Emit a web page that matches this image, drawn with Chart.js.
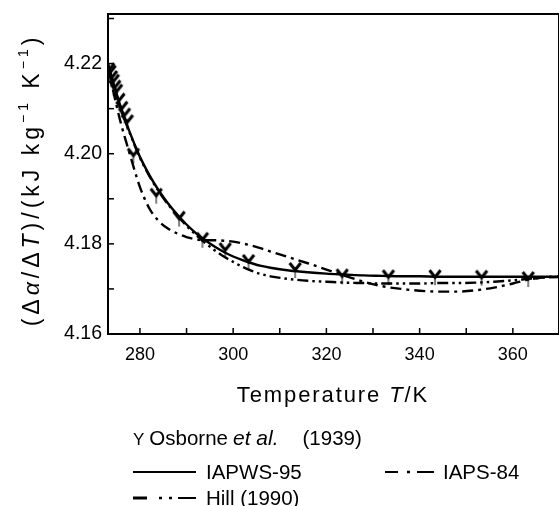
<!DOCTYPE html>
<html>
<head>
<meta charset="utf-8">
<script src="https://cdn.jsdelivr.net/npm/chart.js@4.4.1/dist/chart.umd.min.js"></script>
<style>
  html, body { margin: 0; padding: 0; background: #fff; overflow: hidden; }
  #wrap { position: relative; width: 560px; height: 506px; }
  #chart { position: absolute; left: 0; top: 0; }
  .leg { position: absolute; font-family: 'Liberation Sans', Arial, sans-serif; font-size: 20.5px; color: #000; white-space: nowrap; line-height: 1; }
  .leg svg { position: absolute; }
</style>
</head>
<body>
<div id="wrap">
  <canvas id="chart" width="560" height="506"></canvas>
  <div class="leg" style="left:133px; top:427px;"><span style="font-size:17px;">Y</span><span style="margin-left:5px;">Osborne</span><i style="margin-left:5px; font-size:21px;">et al.</i><span style="margin-left:24px;">(1939)</span></div>
  <svg class="leg" style="left:130px; top:462px;" width="70" height="44">
    <line x1="3" y1="10" x2="66" y2="10" stroke="#000" stroke-width="2"/>
    <line x1="3" y1="36" x2="17" y2="36" stroke="#000" stroke-width="3"/>
    <line x1="29" y1="36" x2="32" y2="36" stroke="#000" stroke-width="2.5"/>
    <line x1="39" y1="36" x2="42" y2="36" stroke="#000" stroke-width="2.5"/>
    <line x1="48" y1="36" x2="66" y2="36" stroke="#000" stroke-width="2"/>
  </svg>
  <div class="leg" style="left:206px; top:462px;">IAPWS-95</div>
  <div class="leg" style="left:206px; top:488px;">Hill (1990)</div>
  <svg class="leg" style="left:382px; top:462px;" width="56" height="20">
    <line x1="3" y1="10" x2="16" y2="10" stroke="#000" stroke-width="2"/>
    <line x1="25" y1="10" x2="28" y2="10" stroke="#000" stroke-width="2.5"/>
    <line x1="35" y1="10" x2="52" y2="10" stroke="#000" stroke-width="2"/>
  </svg>
  <div class="leg" style="left:443px; top:462px;">IAPS-84</div>
</div>
<script>
// ── data ───────────────────────────────────────────────────────────
const curveT = [273.15, 274, 275, 276, 277, 278, 279, 280, 282, 284, 286, 288, 290, 292, 294, 296, 298, 300,
  302, 304, 306, 308, 312, 316, 320, 324, 328, 332, 336, 340, 344, 348, 352, 356, 360, 364, 368, 372];

const iapws95 = [4.2200, 4.2168, 4.2133, 4.2100, 4.2070, 4.2043, 4.2017, 4.1993, 4.1953, 4.1919, 4.1890, 4.1865,
  4.1843, 4.1824, 4.1808, 4.1794, 4.1782, 4.1772, 4.1764, 4.1757, 4.1751, 4.1747, 4.1741, 4.1737, 4.1734,
  4.1732, 4.1730, 4.1729, 4.1728, 4.1728, 4.1727, 4.1727, 4.1727, 4.1727, 4.1727, 4.1727, 4.1727, 4.1727];

const iaps84 = [4.2195, 4.2152, 4.2106, 4.2064, 4.2028, 4.1993, 4.1958, 4.1926, 4.1879, 4.1851, 4.1834, 4.1823,
  4.1815, 4.1810, 4.1808, 4.1808, 4.1807, 4.1805, 4.1801, 4.1796, 4.1790, 4.1783, 4.1770, 4.1757, 4.1743,
  4.1729, 4.1716, 4.1706, 4.1700, 4.1696, 4.1694, 4.1694, 4.1697, 4.1703, 4.1712, 4.1722, 4.1727, 4.1728];

const hill1990 = [4.2198, 4.2166, 4.2131, 4.2098, 4.2068, 4.2041, 4.2015, 4.1991, 4.1951, 4.1917, 4.1888, 4.1863,
  4.1840, 4.1820, 4.1802, 4.1786, 4.1772, 4.1760, 4.1749, 4.1740, 4.1733, 4.1728, 4.1722, 4.1718, 4.1716,
  4.1714, 4.1713, 4.1712, 4.1712, 4.1712, 4.1713, 4.1713, 4.1714, 4.1716, 4.1719, 4.1723, 4.1726, 4.1727];

const osborneT = [273.3, 273.6, 273.9, 274.3, 274.6, 275.0, 275.5, 276.1, 276.7, 277.3, 278.6, 283.5, 288.4,
  293.4, 298.3, 303.3, 313.3, 323.4, 333.3, 343.3, 353.3, 363.3];
const osborneCp = [4.2185, 4.2180, 4.2168, 4.2160, 4.2147, 4.2138, 4.2118, 4.2100, 4.2085, 4.2070, 4.1996,
  4.1907, 4.1856, 4.1809, 4.1786, 4.1760, 4.1742, 4.1728, 4.1726, 4.1726, 4.1725, 4.1722];

const X_MIN = 273.15, X_MAX = 369.9;
const Y_MIN = 4.16, Y_MAX = 4.231;

const FONT = "'Liberation Sans', Arial, sans-serif";

// ── Y-shaped marker, junction at image centre ─────────────────────
function makeYMark() {
  const c = document.createElement('canvas');
  c.width = 16; c.height = 20;
  const g = c.getContext('2d');
  g.strokeStyle = '#000';
  g.lineWidth = 3;
  g.beginPath(); g.moveTo(2.5, 3); g.lineTo(8, 10); g.lineTo(13.5, 3); g.stroke();
  g.lineWidth = 1;
  g.beginPath(); g.moveTo(8, 10); g.lineTo(8, 18); g.stroke();
  return c;
}

function pts(xs, ys) { return xs.map((x, i) => ({ x, y: ys[i] })); }

// text made of plain / italic / superscript pieces
function drawRich(ctx, segs, x, y, size, spacing) {
  const fontOf = s => `${s.it ? 'italic ' : ''}${s.sup ? Math.round(size * 0.62) : size}px ${FONT}`;
  ctx.letterSpacing = spacing + 'px';
  let w = 0;
  segs.forEach(s => { ctx.font = fontOf(s); w += ctx.measureText(s.t).width; });
  let cx = x - w / 2;
  ctx.textAlign = 'left';
  ctx.textBaseline = 'middle';
  segs.forEach(s => {
    ctx.font = fontOf(s);
    ctx.fillText(s.t, cx, s.sup ? y - size * 0.4 : y);
    cx += ctx.measureText(s.t).width;
  });
  ctx.letterSpacing = '0px';
}

const framePlugin = {
  id: 'frame',
  afterDatasetsDraw(chart) {
    const { ctx, chartArea: a, scales } = chart;
    ctx.save();
    ctx.strokeStyle = '#000';
    ctx.lineWidth = 2;
    ctx.beginPath();
    ctx.moveTo(a.right, a.top); ctx.lineTo(a.left, a.top); ctx.lineTo(a.left, a.bottom); ctx.lineTo(a.right, a.bottom);
    ctx.stroke();
    ctx.lineWidth = 1;
    ctx.beginPath(); ctx.moveTo(a.right - 0.5, a.top); ctx.lineTo(a.right - 0.5, a.bottom); ctx.stroke();
    // inward ticks
    ctx.lineWidth = 1.5;
    scales.x.ticks.forEach(t => {
      const px = scales.x.getPixelForValue(t.value);
      ctx.beginPath(); ctx.moveTo(px, a.bottom); ctx.lineTo(px, a.bottom - 6); ctx.stroke();
    });
    scales.y.ticks.forEach(t => {
      const py = scales.y.getPixelForValue(t.value);
      ctx.beginPath(); ctx.moveTo(a.left, py); ctx.lineTo(a.left + 6, py); ctx.stroke();
    });
    ctx.restore();
  },
  afterDraw(chart) {
    const { ctx } = chart;
    ctx.save();
    ctx.fillStyle = '#000';
    drawRich(ctx, [{ t: 'Temperature ' }, { t: 'T', it: true }, { t: '/K' }], 333, 396, 22, 1.9);
    ctx.translate(33, 180);
    ctx.rotate(-Math.PI / 2);
    drawRich(ctx, [
      { t: '(Δ' }, { t: 'α', it: true }, { t: '/Δ' }, { t: 'T', it: true }, { t: ')/(kJ kg' },
      { t: '−1', sup: true }, { t: ' K' }, { t: '−1', sup: true }, { t: ')' },
    ], 0, 0, 23, 4);
    ctx.restore();
  },
};

const lineStyle = { showLine: true, pointRadius: 0, borderColor: '#000', borderWidth: 2.4, fill: false,
  cubicInterpolationMode: 'monotone' };

const noPad = s => { s.paddingLeft = 0; s.paddingRight = 0; s.paddingTop = 0; s.paddingBottom = 0; };

new Chart(document.getElementById('chart'), {
  type: 'scatter',
  data: {
    datasets: [
      { label: 'Osborne et al. (1939)', data: pts(osborneT, osborneCp), pointStyle: makeYMark(),
        pointRadius: 8, borderColor: '#000', backgroundColor: '#000' },
      { label: 'IAPWS-95', data: pts(curveT, iapws95), ...lineStyle },
      { label: 'IAPS-84', data: pts(curveT, iaps84), ...lineStyle, borderDash: [11, 5, 3, 5] },
      { label: 'Hill (1990)', data: pts(curveT, hill1990), ...lineStyle, borderDash: [11, 4, 2.5, 4, 2.5, 4] },
    ],
  },
  options: {
    responsive: false, animation: false,
    layout: { autoPadding: false, padding: { left: 0, top: 14, right: 1, bottom: 0 } },
    plugins: { legend: { display: false }, tooltip: { enabled: false } },
    scales: {
      x: {
        type: 'linear', min: X_MIN, max: X_MAX,
        afterFit: s => { s.height = 172; noPad(s); },
        grid: { display: false, drawTicks: false },
        border: { display: false },
        ticks: { stepSize: 10, includeBounds: false, padding: 10, color: '#000', maxRotation: 0,
          font: { family: FONT, size: 18 },
          callback: v => (Math.round(v) % 20 === 0 ? String(Math.round(v)) : '') },
      },
      y: {
        type: 'linear', min: Y_MIN, max: Y_MAX,
        afterFit: s => { s.width = 108; noPad(s); },
        grid: { display: false, drawTicks: false },
        border: { display: false },
        ticks: { stepSize: 0.01, includeBounds: false, padding: 6, color: '#000',
          font: { family: FONT, size: 19.5 },
          callback: v => (Math.round(v * 100) % 2 === 0 ? v.toFixed(2) : '') },
      },
    },
  },
  plugins: [framePlugin],
});
</script>
</body>
</html>
